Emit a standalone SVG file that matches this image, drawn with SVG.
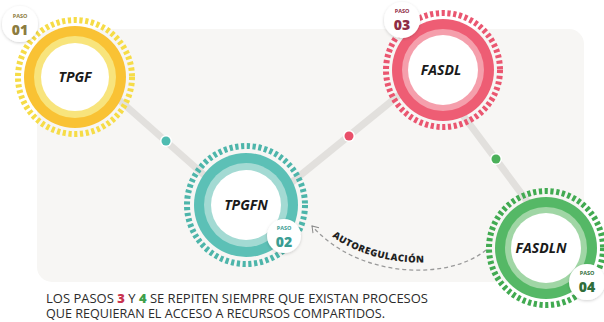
<svg xmlns="http://www.w3.org/2000/svg" width="604" height="322" viewBox="0 0 604 322">
<defs>
<style>
.lbl{font-family:"Open Sans","Liberation Sans",sans-serif;font-weight:700;font-style:italic;font-size:14px;fill:#1a1a1a;text-anchor:middle}
.paso{font-family:"Open Sans","Liberation Sans",sans-serif;font-weight:700;font-size:5.5px;text-anchor:middle}
.num{font-family:"Open Sans","Liberation Sans",sans-serif;font-weight:800;font-size:14px;text-anchor:middle}
.link{stroke:#e2e0dd;stroke-width:7;fill:none}
.dash{fill:none;stroke-width:6;stroke-dasharray:3.2 2.6}
.badge{fill:#ffffff;filter:url(#sh)}
.note{font-family:"Open Sans","Liberation Sans",sans-serif;font-size:13px;fill:#2b2b2b}
</style>
<filter id="sh" x="-50%" y="-50%" width="200%" height="200%">
<feDropShadow dx="0" dy="1" stdDeviation="1.5" flood-color="#000" flood-opacity="0.18"/>
</filter>
<marker id="arr" markerWidth="10" markerHeight="10" refX="8" refY="5" orient="auto" markerUnits="userSpaceOnUse">
<path d="M2,1 L8,5 L2,9" fill="none" stroke="#8a8a8a" stroke-width="1"/>
</marker>
</defs>
<rect x="37" y="29" width="547" height="253" rx="15" fill="#f7f6f4"/>
<g id="connectors">
<line class="link" x1="100" y1="83" x2="230" y2="198"/>
<line class="link" x1="270" y1="200" x2="420" y2="78"/>
<line class="link" x1="450" y1="98" x2="545" y2="225"/>
<circle cx="166" cy="141" r="6" fill="#fff"/><circle cx="166" cy="141" r="4.5" fill="#4fbcb1"/>
<circle cx="349" cy="136" r="6" fill="#fff"/><circle cx="349" cy="136" r="4.5" fill="#e9506a"/>
<circle cx="496" cy="159" r="6" fill="#fff"/><circle cx="496" cy="159" r="4.5" fill="#4bb05a"/>
<path d="M486 250 C450 280,360 280,312 226" fill="none" stroke="#9a9a9a" stroke-width="1.3" stroke-dasharray="4 3" marker-end="url(#arr)"/>
<path id="tp" d="M312 219 C360 272,450 272,486 243" fill="none"/>
<text font-family="'Open Sans','Liberation Sans',sans-serif" font-weight="800" font-size="9.5" fill="#222" letter-spacing="0.5"><textPath href="#tp" startOffset="14%">AUTOREGULACIÓN</textPath></text>
</g>
<g id="n1">
<circle cx="75" cy="77" r="57" class="dash" stroke="#f6dc47"/>
<circle cx="75" cy="77" r="51" fill="#f9c234"/>
<circle cx="75" cy="77" r="41" fill="#f8e47c"/>
<circle cx="75" cy="77" r="34" fill="#fff"/>
<text class="lbl" x="75" y="82">TPGF</text>
<circle class="badge" cx="20" cy="24" r="18"/>
<text class="paso" x="20" y="18" fill="#8c7c40">PASO</text>
<text class="num" x="20" y="35" fill="#8c7c40">01</text>
</g>
<g id="n2">
<circle cx="246" cy="205" r="59" class="dash" stroke="#4db5aa"/>
<circle cx="246" cy="205" r="52" fill="#5cc0b6"/>
<circle cx="246" cy="205" r="42" fill="#a3dad3"/>
<circle cx="246" cy="205" r="35" fill="#fff"/>
<text class="lbl" x="246" y="210">TPGFN</text>
<circle class="badge" cx="284" cy="236" r="17"/>
<text class="paso" x="284" y="230" fill="#3a9d93">PASO</text>
<text class="num" x="284" y="247" fill="#3a9d93">02</text>
</g>
<g id="n3">
<circle cx="443" cy="70" r="57" class="dash" stroke="#ea5670"/>
<circle cx="443" cy="70" r="51" fill="#ee5d74"/>
<circle cx="443" cy="70" r="41" fill="#f59fac"/>
<circle cx="443" cy="70" r="35" fill="#fff"/>
<text class="lbl" x="441" y="75">FASDL</text>
<circle class="badge" cx="402" cy="20" r="18"/>
<text class="paso" x="402" y="13" fill="#8e2c45">PASO</text>
<text class="num" x="402" y="30" fill="#8e2c45">03</text>
</g>
<g id="n4">
<circle cx="546" cy="248" r="57" class="dash" stroke="#41aa51"/>
<circle cx="546" cy="248" r="51" fill="#55b866"/>
<circle cx="546" cy="248" r="41" fill="#a0d6a5"/>
<circle cx="546" cy="248" r="35" fill="#fff"/>
<text class="lbl" x="541" y="253">FASDLN</text>
<circle class="badge" cx="587" cy="282" r="18"/>
<text class="paso" x="587" y="275" fill="#2f6e3b">PASO</text>
<text class="num" x="587" y="292" fill="#2f6e3b">04</text>
</g>
<g id="note">
<text class="note" x="46" y="303" textLength="382" lengthAdjust="spacingAndGlyphs">LOS PASOS <tspan fill="#c8334f" font-weight="800">3</tspan> Y <tspan fill="#3f9f4a" font-weight="800">4</tspan> SE REPITEN SIEMPRE QUE EXISTAN PROCESOS</text>
<text class="note" x="46" y="318" textLength="339" lengthAdjust="spacingAndGlyphs">QUE REQUIERAN EL ACCESO A RECURSOS COMPARTIDOS.</text>
</g>
</svg>
